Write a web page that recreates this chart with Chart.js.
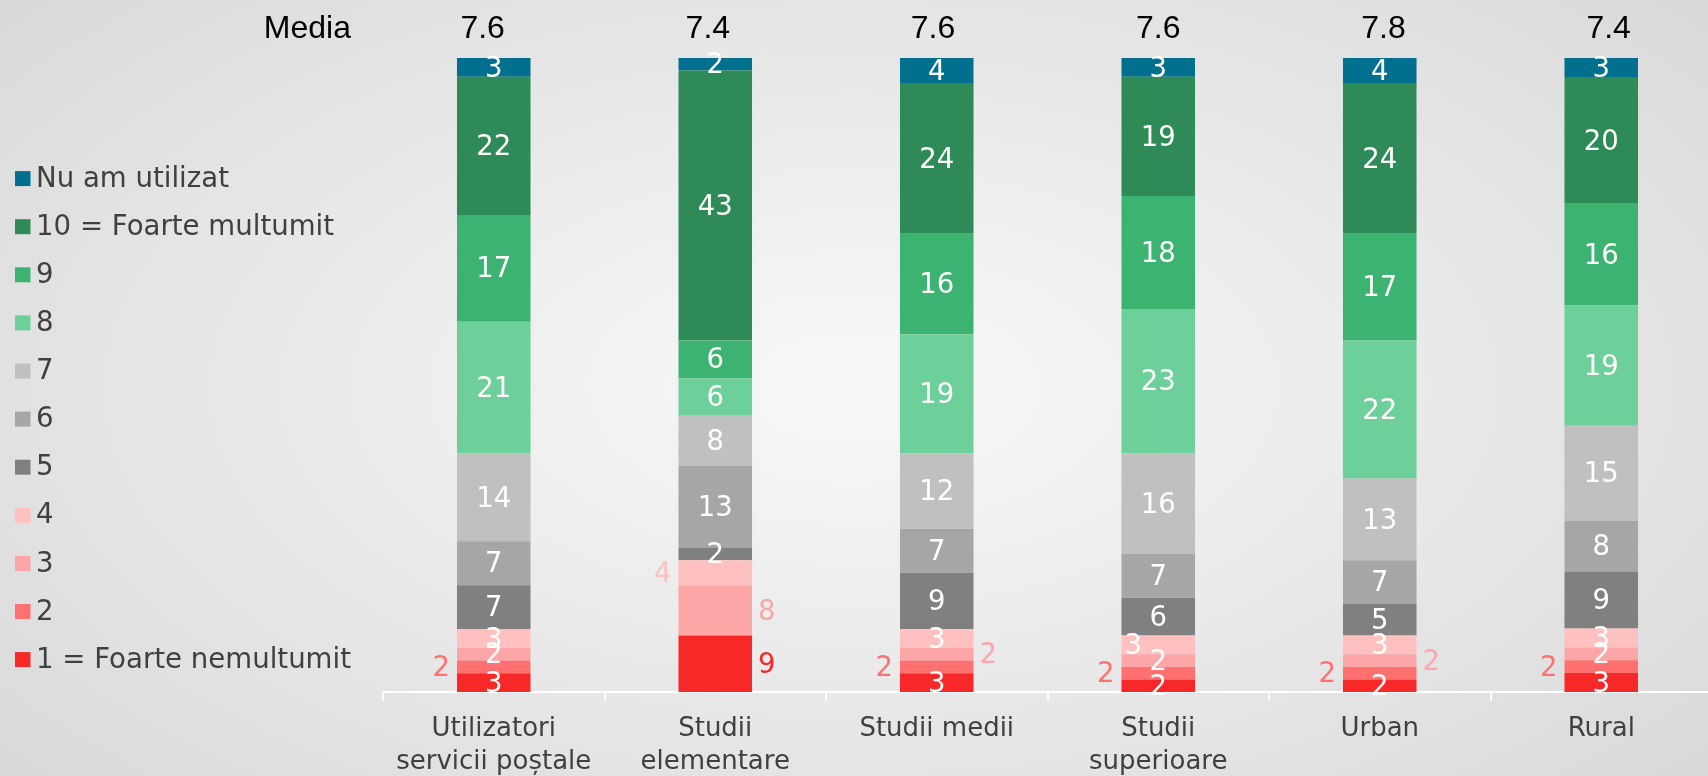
<!DOCTYPE html>
<html>
<head>
<meta charset="utf-8">
<title>Satisfactie servicii postale</title>
<script src="https://cdn.jsdelivr.net/npm/chart.js@4.4.0/dist/chart.umd.min.js"></script>
<style>
  html, body { margin: 0; padding: 0; overflow: hidden; }
  body {
    width: 1708px; height: 776px;
    background: radial-gradient(ellipse 75% 85% at 50% 50%, #f8f8f8 0%, #ebebeb 40%, #d5d5d5 100%);
  }
  #wrap { position: relative; width: 1716px; height: 776px; }
</style>
</head>
<body>
<div id="wrap"><canvas id="chart"></canvas></div>
<script>
// categories (multi-line labels as arrays)
const categories = [
  ['Utilizatori', 'servicii poștale'],
  ['Studii', 'elementare'],
  'Studii medii',
  ['Studii', 'superioare'],
  'Urban',
  'Rural'
];

// percentages per score, bottom to top
const score1 = [3, 9, 3, 2, 2, 3];
const score2 = [2, 0, 2, 2, 2, 2];
const score3 = [2, 8, 2, 2, 2, 2];
const score4 = [3, 4, 3, 3, 3, 3];
const score5 = [7, 2, 9, 6, 5, 9];
const score6 = [7, 13, 7, 7, 7, 8];
const score7 = [14, 8, 12, 16, 13, 15];
const score8 = [21, 6, 19, 23, 22, 19];
const score9 = [17, 6, 16, 18, 17, 16];
const score10 = [22, 43, 24, 19, 24, 20];
const notUsed = [3, 2, 4, 3, 4, 3];

// mean score shown above each bar
const media = [7.6, 7.4, 7.6, 7.6, 7.8, 7.4];

const series = [
  { label: '1 = Foarte nemultumit', values: score1, color: '#f72828' },
  { label: '2', values: score2, color: '#ff7171' },
  { label: '3', values: score3, color: '#fca6a7' },
  { label: '4', values: score4, color: '#ffc0c0' },
  { label: '5', values: score5, color: '#808080' },
  { label: '6', values: score6, color: '#a6a6a6' },
  { label: '7', values: score7, color: '#c0c0c0' },
  { label: '8', values: score8, color: '#6dcf99' },
  { label: '9', values: score9, color: '#3cb371' },
  { label: '10 = Foarte multumit', values: score10, color: '#2e8b57' },
  { label: 'Nu am utilizat', values: notUsed, color: '#00708e' }
];

// labels that sit beside the bar instead of inside (series index - category index)
const labelTweaks = {
  '1-0': { side: 'left' },
  '0-1': { side: 'right' },
  '2-1': { side: 'right' },
  '3-1': { side: 'left' },
  '1-2': { side: 'left' },
  '2-2': { side: 'right' },
  '1-3': { side: 'left' },
  '3-3': { dx: -25 },
  '1-4': { side: 'left' },
  '2-4': { side: 'right' },
  '1-5': { side: 'left' }
};

// 100% stacked: each bar is scaled to its own total
const totals = categories.map((c, i) => series.reduce((s, d) => s + d.values[i], 0));

const FONT = '"DejaVu Sans", Verdana, sans-serif';

const segLabels = {
  id: 'segLabels',
  afterDatasetsDraw(chart) {
    const ctx = chart.ctx;
    ctx.save();
    ctx.font = '27.5px ' + FONT;
    ctx.textBaseline = 'middle';
    chart.data.datasets.forEach((ds, di) => {
      const meta = chart.getDatasetMeta(di);
      meta.data.forEach((bar, ci) => {
        const v = ds.rawValues[ci];
        if (!v) return;
        const tw = labelTweaks[di + '-' + ci] || {};
        const y = (bar.y + bar.base) / 2 + 2;
        const half = bar.width / 2;
        if (tw.side === 'left') {
          ctx.fillStyle = ds.backgroundColor;
          ctx.textAlign = 'right';
          ctx.fillText(String(v), bar.x - half - 7, y);
        } else if (tw.side === 'right') {
          ctx.fillStyle = ds.backgroundColor;
          ctx.textAlign = 'left';
          ctx.fillText(String(v), bar.x + half + 6, y);
        } else {
          ctx.fillStyle = '#ffffff';
          ctx.textAlign = 'center';
          ctx.fillText(String(v), bar.x + (tw.dx || 0), y);
        }
      });
    });
    ctx.restore();
  }
};

const mediaRow = {
  id: 'mediaRow',
  afterDraw(chart) {
    const ctx = chart.ctx;
    const x = chart.scales.x;
    ctx.save();
    ctx.font = '32px "Liberation Sans", Arial, sans-serif';
    ctx.fillStyle = '#000000';
    ctx.textBaseline = 'alphabetic';
    ctx.textAlign = 'right';
    ctx.fillText('Media', 351, 38);
    ctx.textAlign = 'center';
    media.forEach((m, i) => {
      ctx.fillText(m.toFixed(1), x.getPixelForValue(i) + (i - 3) * 3.7, 38);
    });
    ctx.restore();
  }
};

const sideLegend = {
  id: 'sideLegend',
  afterDraw(chart) {
    const ctx = chart.ctx;
    ctx.save();
    ctx.font = '27.6px ' + FONT;
    ctx.textBaseline = 'middle';
    ctx.textAlign = 'left';
    chart.data.datasets.slice().reverse().forEach((ds, k) => {
      const cy = 178.6 + k * 48.1;
      ctx.fillStyle = ds.backgroundColor;
      ctx.fillRect(15, cy - 7.5, 15.5, 15);
      ctx.fillStyle = '#404040';
      ctx.fillText(ds.label, 36, cy + 1);
    });
    ctx.restore();
  }
};

new Chart(document.getElementById('chart'), {
  type: 'bar',
  data: {
    labels: categories,
    datasets: series.map(s => ({
      label: s.label,
      rawValues: s.values,
      data: s.values.map((v, i) => v / totals[i] * 100),
      backgroundColor: s.color,
      borderWidth: 0,
      barPercentage: 0.332,
      categoryPercentage: 1
    }))
  },
  options: {
    responsive: true,
    maintainAspectRatio: false,
    animation: false,
    layout: { padding: { top: 58, left: 383, right: 4, bottom: 0 } },
    plugins: {
      legend: { display: false },
      tooltip: { enabled: false }
    },
    scales: {
      x: {
        stacked: true,
        grid: { display: true, drawOnChartArea: false, drawTicks: true, tickLength: 9, color: '#ffffff', lineWidth: 2 },
        border: { display: true, color: '#ffffff', width: 2 },
        ticks: { color: '#404040', padding: 12, font: { family: FONT, size: 26, lineHeight: 1.26 } },
        afterFit(s) { s.height = 84; }
      },
      y: {
        stacked: true,
        display: false,
        min: 0,
        max: 100
      }
    }
  },
  plugins: [segLabels, mediaRow, sideLegend]
});
</script>
</body>
</html>
